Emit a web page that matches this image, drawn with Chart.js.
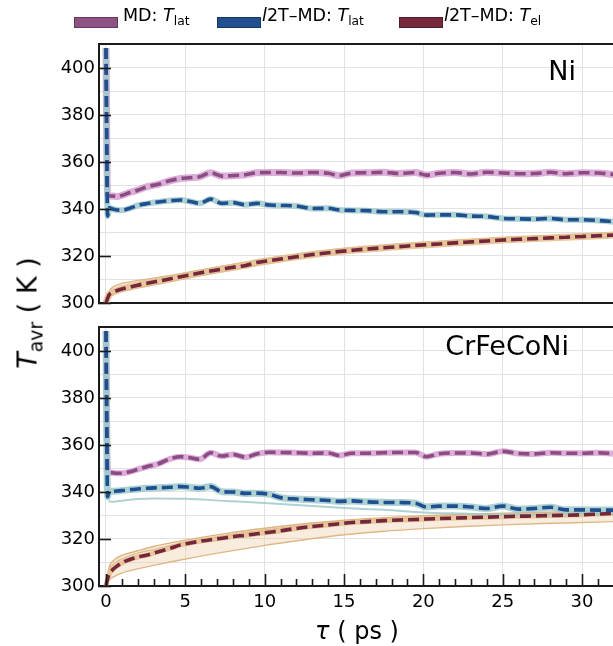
<!DOCTYPE html>
<html>
<head>
<meta charset="utf-8">
<script src="https://cdn.jsdelivr.net/npm/chart.js@4.4.1/dist/chart.umd.min.js"></script>
<style>
body { margin: 0; background: #fff; font-family: "DejaVu Sans", sans-serif; }
#wrap { position: relative; width: 613px; height: 646px; overflow: hidden; }
canvas { position: absolute; left: 0; }
.lbl { position: absolute; white-space: nowrap; color: #000; z-index: 2; }
.lbl sub { font-size: 0.7em; vertical-align: -0.3em; line-height: 0; }
.sw { position: absolute; width: 42px; height: 9px; border: 1px solid rgba(0,0,0,0.3); z-index: 2; }
</style>
</head>
<body>
<div id="wrap">
  <canvas id="niChart" width="613" height="315" style="top:0"></canvas>
  <canvas id="crChart" width="613" height="331" style="top:315px"></canvas>

  <div class="sw" style="left:74px;top:17px;background:#8E5283"></div>
  <div class="lbl" style="left:123px;top:7px;font-size:17.5px;line-height:17.5px">MD: <i>T</i><sub>lat</sub></div>
  <div class="sw" style="left:217px;top:17px;background:#22508E"></div>
  <div class="lbl" style="left:262px;top:7px;font-size:17.5px;line-height:17.5px"><i>l</i>2T–MD: <i>T</i><sub>lat</sub></div>
  <div class="sw" style="left:399px;top:17px;background:#74283A"></div>
  <div class="lbl" style="left:444px;top:7px;font-size:17.5px;line-height:17.5px"><i>l</i>2T–MD: <i>T</i><sub>el</sub></div>

  <div class="lbl" style="right:37px;top:57px;font-size:27px;line-height:27px">Ni</div>
  <div class="lbl" style="right:44px;top:332px;font-size:27px;line-height:27px">CrFeCoNi</div>

  <div class="lbl" style="left:27px;top:313px;font-size:27px;transform:translate(-50%,-50%) rotate(-90deg)"><i>T</i><sub>avr</sub> ( K )</div>
  <div class="lbl" style="left:357px;top:631px;font-size:24px;transform:translate(-50%,-50%)"><i>τ</i> ( ps )</div>
</div>

<script>
// time axis (ps)
const tau = [0, 0.1, 0.2, 0.4, 0.7, 1, 1.5, 2, 2.6, 3.3, 4, 4.7, 5.3, 5.9, 6.6, 7.3, 8, 8.8, 9.5, 10.3,
  11, 12, 13, 14, 14.7, 15.5, 16.5, 17.5, 18.5, 19.5, 20.2, 21, 22, 23, 24, 25, 26, 27, 28, 29, 30, 31, 32];

// Ni panel
const niMdLat = [408.5, 346, 345.5, 345.5, 345.3, 345.8, 347, 348, 349.5, 350.5, 352, 353, 353.3, 353.7, 355.4, 354, 354.2, 354.6, 355.4, 355.5,
  355.5, 355.3, 355.5, 355.2, 354.2, 355.3, 355.4, 355.6, 355.1, 355.5, 354.4, 355.2, 355.5, 354.9, 355.6, 355.3, 355, 355.1, 355.6, 355, 355.4, 355.3, 354.7];
const niTtLat = [408.5, 337, 340.5, 340, 339.6, 339.5, 340.3, 341.5, 342.3, 343, 343.5, 343.8, 343.2, 342.4, 344.2, 342.4, 342.7, 341.8, 342.4, 341.7,
  341.5, 341.3, 340.2, 340.3, 339.6, 339.4, 339.3, 338.8, 338.8, 338.5, 337.4, 337.5, 337.5, 337, 336.8, 336, 335.8, 335.7, 336, 335.4, 335.4, 335.1, 334.6];
const niTtEl = [300, 302, 303.5, 304.5, 305.3, 306, 306.8, 307.6, 308.4, 309.3, 310.2, 311.2, 312, 312.8, 313.6, 314.4, 315.2, 316, 317.2, 318,
  318.7, 319.7, 320.6, 321.4, 321.9, 322.4, 323, 323.5, 324, 324.5, 324.8, 325.1, 325.6, 326, 326.4, 326.8, 327.1, 327.4, 327.7, 328, 328.3, 328.6, 328.9];

// CrFeCoNi panel
const crMdLat = [408.5, 349, 348.3, 348.2, 348, 348, 348.6, 349.6, 350.8, 352, 354, 355, 354.6, 353.9, 356.7, 355.3, 356, 354.8, 356.2, 356.9,
  356.8, 356.7, 356.5, 356.6, 355.5, 356.5, 356.5, 356.7, 356.8, 356.8, 355, 356.3, 356.6, 356.6, 356.1, 357.3, 356.4, 356.2, 356.7, 356.5, 356.5, 356.7, 356.3];
const crTtLat = [408.5, 338, 340.2, 340.3, 340.4, 340.6, 341, 341.3, 341.6, 341.8, 342, 342.3, 342, 341.6, 342.3, 340.1, 340, 339.4, 339.5, 339,
  337.6, 337, 336.7, 336.4, 336, 336.2, 335.8, 335.6, 335.5, 335.2, 333.6, 334, 334, 333.6, 333, 334, 332.7, 333, 333.5, 332.4, 332.4, 332.3, 332.3];
const crTtEl = [300, 303, 305, 306.8, 308.5, 309.8, 311.3, 312.3, 313.2, 314.6, 315.9, 317.5, 318.3, 319, 319.7, 320.3, 321, 321.6, 322.2, 322.9,
  323.5, 324.5, 325.3, 326, 326.5, 327, 327.4, 327.8, 328.1, 328.3, 328.5, 328.7, 328.9, 329.1, 329.3, 329.5, 329.7, 329.8, 330, 330.1, 330.3, 330.6, 330.9];

// replica spread (coarser time grid)
const bandTau = [0, 0.2, 0.5, 1, 2, 3, 5, 7.5, 10, 12.5, 15, 17.5, 20, 22.5, 25, 27.5, 30, 32];
const niElHi = [300, 305, 307, 308.3, 309.6, 310.6, 312.8, 315.9, 318.8, 321.2, 323.2, 324.6, 325.8, 326.9, 327.8, 328.6, 329.3, 329.7];
const niElLo = [300, 302.5, 304, 305, 306.4, 307.7, 310.4, 313.5, 316.6, 319.3, 321.4, 323, 324.2, 325.3, 326.3, 327.1, 327.8, 328.3];
const crElHi = [300, 308, 311, 313, 315, 316.8, 319.5, 322.3, 324.6, 326.5, 328, 329.1, 329.9, 330.5, 331, 331.4, 331.7, 332];
const crElMid = [300, 306.5, 309.5, 311.5, 314, 315.5, 318.6, 321.4, 323.8, 325.8, 327.3, 328.4, 329.2, 329.9, 330.4, 330.8, 331.1, 331.4];
const crElLo = [300, 302.5, 304, 305.5, 307.3, 308.8, 311.5, 314.5, 317.3, 319.7, 321.8, 323.3, 324.4, 325.3, 326, 326.6, 327, 327.4];
const crLatLo = [408.5, 336, 335.9, 336.3, 337, 337.2, 337.1, 336.2, 335.3, 334.3, 333.2, 332.4, 331.3, 330.8, 330.4, 330.4, 330.6, 330.8];

const xTicksStep = 5;
const yTicksStep = 10;

const pts = (xs, ys) => xs.map((x, i) => ({x: x, y: ys[i]}));

function dashed(xs, ys, color, order) {
    return {
        data: pts(xs, ys), borderColor: color, borderWidth: 3.6, borderDash: [11, 5],
        pointRadius: 0, cubicInterpolationMode: 'monotone', fill: false, order: order,
        borderJoinStyle: 'round'
    };
}
function band(xs, ys, color, width, order) {
    return {
        data: pts(xs, ys), borderColor: color, borderWidth: width, pointRadius: 0,
        cubicInterpolationMode: 'monotone', fill: false, order: order, borderJoinStyle: 'round'
    };
}

// Inward ticks, minor ticks and the top spine
const spinesPlugin = {
    id: 'spines',
    afterDraw(chart, args, opts) {
        const {ctx, chartArea: a, scales: {x, y}} = chart;
        ctx.save();
        ctx.strokeStyle = '#1a1a1a';
        ctx.lineWidth = 2;
        ctx.beginPath();
        ctx.moveTo(a.left - 1, a.top);
        ctx.lineTo(a.right, a.top);
        ctx.stroke();
        ctx.lineWidth = 1.6;
        y.ticks.forEach(t => {
            if (t.value % 20 !== 0) return;
            const py = Math.round(y.getPixelForValue(t.value)) + 0.5;
            ctx.beginPath();
            ctx.moveTo(a.left - 1, py);
            ctx.lineTo(a.left + 12, py);
            ctx.stroke();
        });
        if (opts.minor) {
            for (let v = 0; v <= 31; v++) {
                const px = Math.round(x.getPixelForValue(v)) + 0.5;
                const len = v % 5 === 0 ? 12 : 7;
                ctx.beginPath();
                ctx.moveTo(px, a.bottom);
                ctx.lineTo(px, a.bottom - len);
                ctx.stroke();
            }
        }
        ctx.restore();
    }
};

function makeOptions(showX, padTop) {
    const tickFont = {family: 'DejaVu Sans', size: 18};
    return {
        responsive: false,
        animation: false,
        layout: {autoPadding: false, padding: {top: padTop, left: 0, right: 0, bottom: 0}},
        plugins: {legend: {display: false}, tooltip: {enabled: false}, spines: {minor: showX}},
        scales: {
            x: {
                type: 'linear', min: -0.44, max: 31.95,
                afterFit: s => { s.height = showX ? 60 : 12; },
                grid: {color: '#e2e2e2', lineWidth: 1, drawTicks: false},
                border: {color: '#1a1a1a', width: 2},
                ticks: {display: showX, stepSize: xTicksStep, includeBounds: false, padding: 6,
                    color: '#000', font: tickFont, maxRotation: 0, autoSkip: false}
            },
            y: {
                min: 300, max: 410.2,
                afterFit: s => { s.width = 99; },
                grid: {color: '#e2e2e2', lineWidth: 1, drawTicks: false},
                border: {color: '#1a1a1a', width: 2},
                ticks: {stepSize: yTicksStep, includeBounds: false, padding: 4, color: '#000',
                    font: {family: 'DejaVu Sans', size: 18, lineHeight: 0.8}, autoSkip: false,
                    callback: v => (v % 20 === 0 ? v : '')}
            }
        }
    };
}

const purple = '#8A4C83', pink = 'rgba(214,160,209,0.85)';
const blue = '#1F4F8F', teal = 'rgba(160,202,204,0.85)';
const red = '#74263A', tan = '#DDB481', tanBand = 'rgba(228,192,146,0.85)', tanFill = 'rgba(232,200,160,0.35)';

new Chart(document.getElementById('niChart'), {
    type: 'line',
    data: {
        datasets: [
            Object.assign(band(bandTau, niElHi, tan, 1.3, 20), {fill: '+1', backgroundColor: tanFill}),
            band(bandTau, niElLo, tan, 1.3, 21),
            band(tau, niTtEl, tanBand, 7, 14),
            band(tau, niMdLat, pink, 7, 12),
            band(tau, niTtLat, teal, 6, 11),
            dashed(tau, niTtEl, red, 3),
            dashed(tau, niMdLat, purple, 2),
            dashed(tau, niTtLat, blue, 1)
        ]
    },
    options: makeOptions(false, 44),
    plugins: [spinesPlugin]
});

new Chart(document.getElementById('crChart'), {
    type: 'line',
    data: {
        datasets: [
            Object.assign(band(bandTau, crElHi, tan, 1.4, 20), {fill: '+2', backgroundColor: tanFill}),
            band(bandTau, crElMid, tan, 1.4, 21),
            band(bandTau, crElLo, tan, 1.4, 22),
            band(tau, crTtEl, tanBand, 5, 14),
            band(bandTau, crLatLo, teal, 2, 13),
            band(tau, crMdLat, pink, 6, 12),
            band(tau, crTtLat, teal, 7, 11),
            dashed(tau, crTtEl, red, 3),
            dashed(tau, crMdLat, purple, 2),
            dashed(tau, crTtLat, blue, 1)
        ]
    },
    options: makeOptions(true, 12),
    plugins: [spinesPlugin]
});
</script>
</body>
</html>
